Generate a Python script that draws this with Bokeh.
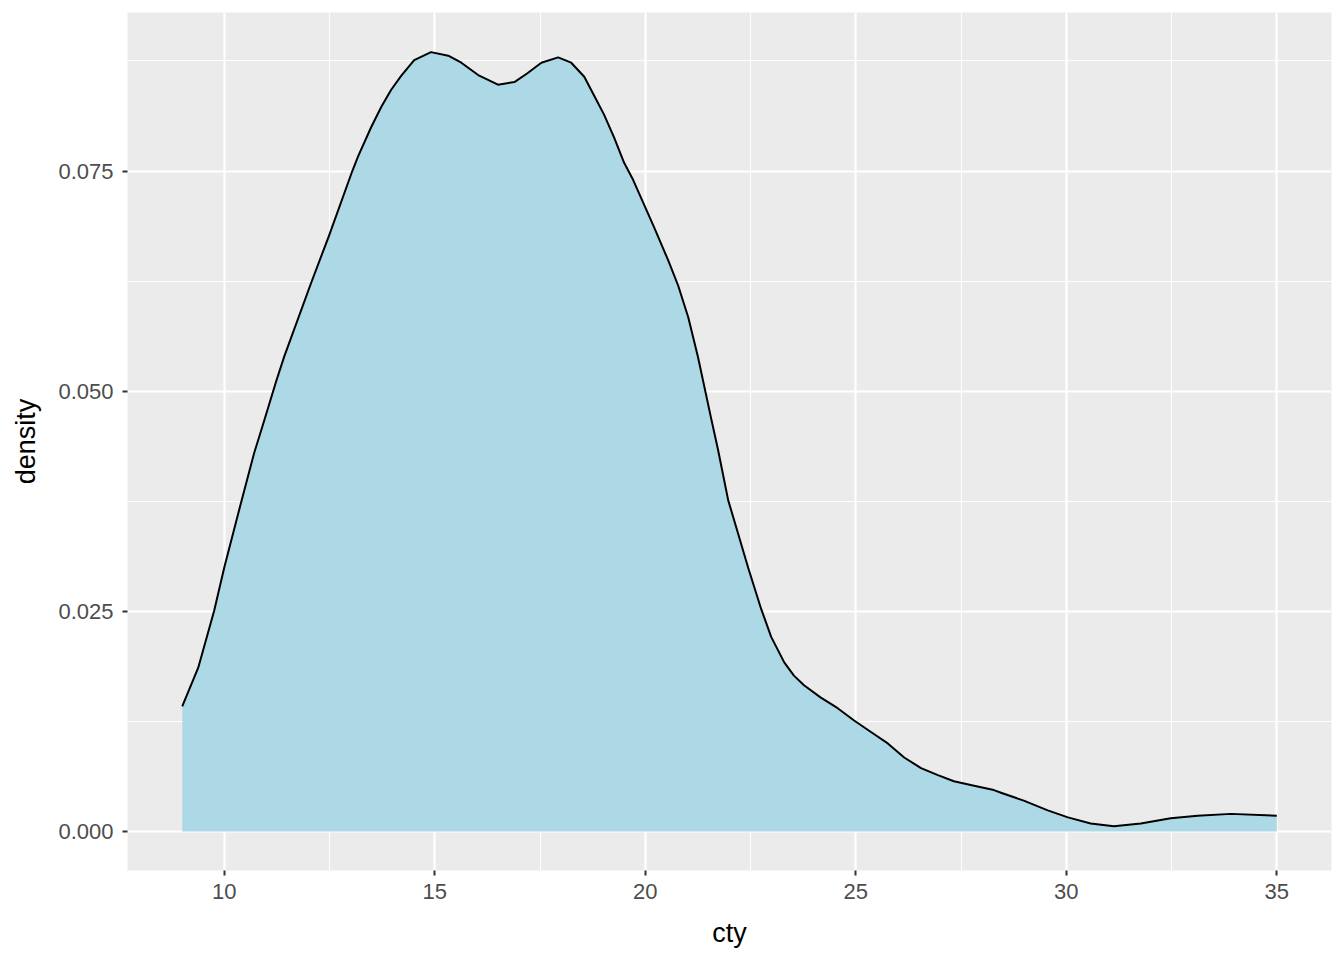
from bokeh.plotting import figure
from bokeh.models import Range1d, FixedTicker
from bokeh.embed import file_html
from bokeh.resources import INLINE

# density curve of cty
cty = [9.0, 9.38, 9.76, 10.0, 10.4, 10.71, 10.95, 11.23, 11.42, 12.07, 12.49, 13.04,
       13.18, 13.49, 13.73, 13.96, 14.2, 14.51, 14.91, 15.32, 15.63, 16.03, 16.5,
       16.89, 17.2, 17.53, 17.93, 18.24, 18.55, 18.78, 19.02, 19.26, 19.5, 19.71,
       20.21, 20.54, 20.78, 21.02, 21.25, 21.56, 21.73, 21.97, 22.2, 22.44, 22.75,
       22.99, 23.3, 23.53, 23.77, 24.17, 24.57, 24.96, 25.36, 25.76, 26.15, 26.55,
       26.95, 27.33, 27.81, 28.28, 28.45, 28.99, 29.56, 30.04, 30.58, 31.13, 31.77,
       32.48, 33.12, 33.91, 35.0]
density = [0.0142, 0.0186, 0.0251, 0.0300, 0.0374, 0.0430, 0.0467, 0.0511, 0.0539,
           0.0624, 0.0677, 0.0750, 0.0767, 0.0800, 0.0823, 0.0842, 0.0858, 0.0876,
           0.0885, 0.0881, 0.0873, 0.0859, 0.0848, 0.0851, 0.0861, 0.0873, 0.0879,
           0.0873, 0.0857, 0.0836, 0.0814, 0.0788, 0.0759, 0.0740, 0.0686, 0.0649,
           0.0620, 0.0584, 0.0539, 0.0470, 0.0433, 0.0376, 0.0339, 0.0300, 0.0253,
           0.0221, 0.0192, 0.0177, 0.0166, 0.0152, 0.0140, 0.0126, 0.0113, 0.0100,
           0.0084, 0.0072, 0.0064, 0.0057, 0.0052, 0.0047, 0.0044, 0.0035, 0.0024,
           0.0016, 0.0009, 0.0006, 0.0009, 0.0015, 0.0018, 0.0020, 0.0018]

x_ticks = [10, 15, 20, 25, 30, 35]
x_minor = [7.5, 12.5, 17.5, 22.5, 27.5, 32.5]
y_ticks = [0.0, 0.025, 0.05, 0.075]
y_minor = [0.0125, 0.0375, 0.0625, 0.0875]
y_labels = ["0.000", "0.025", "0.050", "0.075"]

p = figure(width=1336, height=952, output_backend="svg", toolbar_location=None,
           x_range=Range1d(7.7, 36.3), y_range=Range1d(-0.00443, 0.0930),
           min_border_left=127, min_border_right=5, min_border_top=12, min_border_bottom=82)

p.background_fill_color = "#EBEBEB"
p.border_fill_color = "white"
p.outline_line_color = None

p.varea(x=cty, y1=[0] * len(cty), y2=density, fill_color="#ADD8E6")
p.line(x=cty, y=density, line_color="black", line_width=2, line_join="round")

p.xaxis.ticker = FixedTicker(ticks=x_ticks, minor_ticks=x_minor)
p.yaxis.ticker = FixedTicker(ticks=y_ticks, minor_ticks=y_minor)
p.yaxis.major_label_overrides = {t: l for t, l in zip(y_ticks, y_labels)}
p.xaxis.major_label_overrides = {t: str(t) for t in x_ticks}

for g in (p.xgrid, p.ygrid):
    g.grid_line_color = "white"
    g.grid_line_width = 2.2
    g.minor_grid_line_color = "white"
    g.minor_grid_line_width = 1.1

for ax in (p.xaxis, p.yaxis):
    ax.axis_line_color = None
    ax.major_tick_line_color = "#333333"
    ax.major_tick_line_width = 2
    ax.major_tick_out = 5
    ax.major_tick_in = 0
    ax.minor_tick_out = 0
    ax.minor_tick_in = 0
    ax.major_label_text_font = "Liberation Sans"
    ax.major_label_text_font_size = "22px"
    ax.major_label_text_color = "#4D4D4D"
    ax.axis_label_text_font = "Liberation Sans"
    ax.axis_label_text_font_size = "27px"
    ax.axis_label_text_font_style = "normal"
    ax.axis_label_text_color = "black"

p.xaxis.major_label_standoff = 8
p.yaxis.major_label_standoff = 9
p.xaxis.axis_label = "cty"
p.yaxis.axis_label = "density"
p.xaxis.axis_label_standoff = 16
p.yaxis.axis_label_standoff = 14

open("out.html", "w").write(file_html(p, INLINE))
